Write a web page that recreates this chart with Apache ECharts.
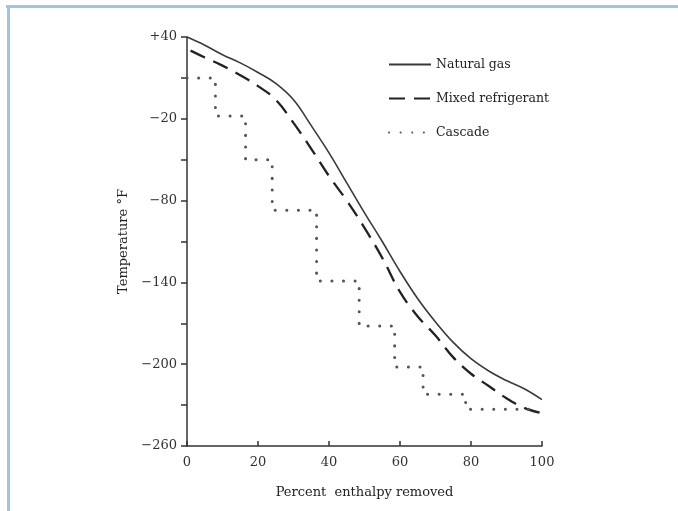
<!DOCTYPE html>
<html>
<head>
<meta charset="utf-8">
<script src="https://cdn.jsdelivr.net/npm/echarts@6/dist/echarts.min.js"></script>
<style>
html,body{margin:0;padding:0;background:#fff;}
#c{width:678px;height:511px;}
</style>
</head>
<body>
<div id="c"></div>
<script>
// ---- data ----
const seriesNames = ['Natural gas', 'Mixed refrigerant', 'Cascade'];
const naturalGasX = [0, 5, 10, 15, 20, 25, 30, 35, 40, 45, 50, 55, 60, 65, 70, 75, 80, 85, 90, 95, 100];
const naturalGasT = [40, 34, 27, 21, 14, 6, -6, -25, -45, -67, -89, -110, -132, -152, -169, -184, -196, -205, -212, -218, -226];
const mixedX = [1, 5, 10, 15, 20, 25, 30, 35, 40, 45, 50, 55, 60, 65, 70, 75, 80, 85, 90, 95, 100];
const mixedT = [30, 25, 19, 12, 4, -6, -23, -42, -62, -80, -100, -122, -147, -165, -179, -195, -207, -216, -225, -232, -236];
const cascadeX = [0, 8, 16.5, 24, 36.5, 48.5, 58.5, 66.5, 78.5, 98];
const cascadeT = [10, -18, -50, -87, -139, -172, -202, -222, -233, -233];
const xTicks = [0, 20, 40, 60, 80, 100];
const yTickValues = [40, 10, -20, -50, -80, -110, -140, -170, -200, -230, -260];
const yLabelValues = [40, -20, -80, -140, -200, -260];
const xAxisName = 'Percent  enthalpy removed';
const yAxisName = 'Temperature °F';

const zip = (xs, ys) => xs.map((x, i) => [x, ys[i]]);
const FONT = 'DejaVu Serif';
const chart = echarts.init(document.getElementById('c'), null, {renderer: 'canvas'});
chart.setOption({
  backgroundColor: '#fff',
  animation: false,
  grid: {left: 187, right: 136, top: 37, bottom: 65},
  legend: {
    orient: 'vertical', left: 388, top: 58, padding: 0, itemWidth: 42, itemHeight: 14, itemGap: 21,
    data: seriesNames,
    itemStyle: {opacity: 0},
    textStyle: {fontFamily: FONT, fontSize: 12.5, color: '#222'}
  },
  xAxis: {
    type: 'value', min: 0, max: 100, interval: 20,
    name: xAxisName, nameLocation: 'middle', nameGap: 40,
    nameTextStyle: {fontFamily: FONT, fontSize: 13, color: '#222'},
    axisLine: {onZero: false, lineStyle: {color: '#333', width: 1.5}},
    axisTick: {inside: true, length: 5, lineStyle: {color: '#333', width: 1.5}, customValues: xTicks},
    axisLabel: {fontFamily: FONT, fontSize: 13, color: '#333', margin: 10, customValues: xTicks},
    splitLine: {show: false}
  },
  yAxis: {
    type: 'value', min: -260, max: 40,
    name: yAxisName, nameLocation: 'middle', nameGap: 56, nameRotate: 90,
    nameTextStyle: {fontFamily: FONT, fontSize: 13, color: '#222'},
    axisLine: {show: true, onZero: false, lineStyle: {color: '#333', width: 1.5}},
    axisTick: {show: true, length: 6, lineStyle: {color: '#333', width: 1.5}, customValues: yTickValues},
    axisLabel: {fontFamily: FONT, fontSize: 13, color: '#333', margin: 10, customValues: yLabelValues,
      formatter: v => v > 0 ? '+' + v : (v < 0 ? '\u2212' + Math.abs(v) : '' + v)},
    splitLine: {show: false}
  },
  graphic: [
    {type: 'line', shape: {x1: 6, y1: 6.5, x2: 678, y2: 6.5}, style: {stroke: '#9fc4e8', lineWidth: 3}, silent: true},
    {type: 'line', shape: {x1: 8.5, y1: 5, x2: 8.5, y2: 511}, style: {stroke: '#9fc4e8', lineWidth: 3}, silent: true}
  ],
  series: [
    {name: seriesNames[0], type: 'line', data: zip(naturalGasX, naturalGasT), symbol: 'none', smooth: 0.4,
     lineStyle: {color: '#3a3a3a', width: 1.6}, itemStyle: {color: '#3a3a3a'}},
    {name: seriesNames[1], type: 'line', data: zip(mixedX, mixedT), symbol: 'none', smooth: 0.4,
     lineStyle: {color: '#222', width: 2.3, type: [16, 9]}, itemStyle: {color: '#222'}},
    {name: seriesNames[2], type: 'line', data: zip(cascadeX, cascadeT), symbol: 'none', step: 'end',
     lineStyle: {color: '#555', width: 3, type: [0.1, 11.5], cap: 'round'}, itemStyle: {color: '#555'}}
  ]
});
</script>
</body>
</html>
